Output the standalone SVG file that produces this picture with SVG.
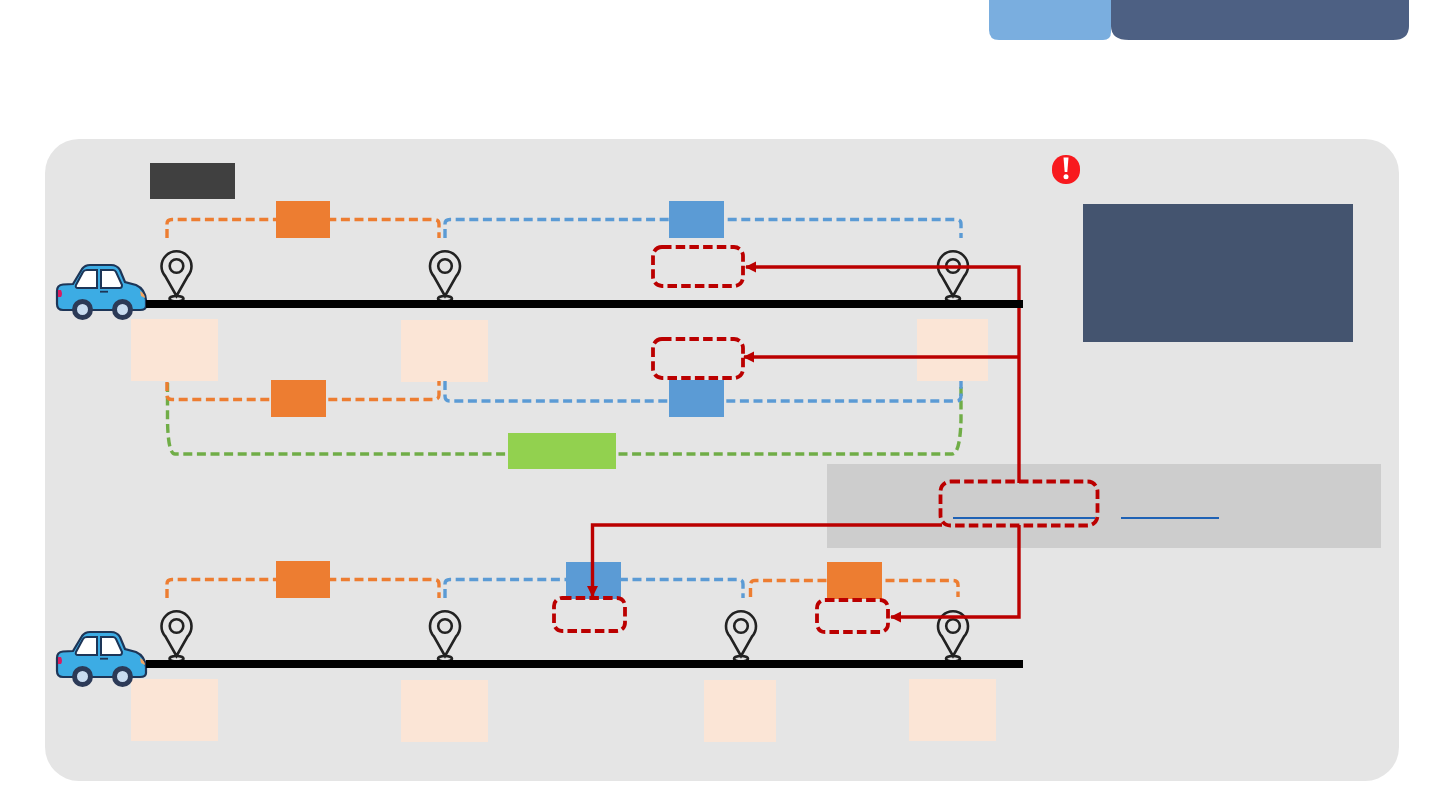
<svg xmlns="http://www.w3.org/2000/svg" width="1440" height="810" viewBox="0 0 1440 810">
  <style>
    .dash { fill: none; stroke-width: 3.4; stroke-dasharray: 9 4.6; }
    .orange { stroke: #ed7d31; }
    .blue { stroke: #5b9bd5; }
    .green { stroke: #70ad47; }
    .flag { fill: none; stroke: #bb0000; stroke-width: 3.8; stroke-dasharray: 9.500 4.200; }
    .feed { fill: none; stroke: #bb0000; stroke-width: 3.4; }
    .cost { fill: #fbe5d6; }
    .o { fill: #ed7d31; }
    .b { fill: #5b9bd5; }
    .road { fill: #000; }
    .link { stroke: #1f62b5; stroke-width: 2; }
  </style>
  <defs>
    <marker id="head" viewBox="0 0 10 10" refX="9" refY="5" markerWidth="3.300" markerHeight="3.300" orient="auto-start-reverse">
      <path d="M0 0L10 5L0 10Z" fill="#bb0000"/>
    </marker>
    <g id="pin" fill="none" stroke="#222" stroke-width="2.600">
      <path d="M176.500 296L165.500 276.500A15 15 0 1 1 187.500 276.500Z"/>
      <circle cx="176.500" cy="266" r="6.800"/>
      <ellipse cx="176.500" cy="298.800" rx="7" ry="2.800"/>
    </g>
    <g id="car">
      <path d="M57 291Q57 285 63 284.500L73 284L82 269Q85 265 90 265L111 265Q117 265 120 270L125 282L136 285Q145 289 146 300L146 306Q146 310 140 310L63 310Q57 310 57 304Z" fill="#3cace4" stroke="#1d3557" stroke-width="2.200"/>
      <path d="M76 285L83 272Q84 270 87 270L97 270L97 288L78 288Q75 288 76 285Z" fill="#fff" stroke="#1d3557" stroke-width="2"/>
      <path d="M101 270L113 270Q115 270 116 272L122 285Q122 288 120 288L101 288Z" fill="#fff" stroke="#1d3557" stroke-width="2"/>
      <rect x="100" y="290.800" width="8" height="1.800" fill="#1d3557"/>
      <path d="M58 290L61 290Q63 294 61 297L58 297Z" fill="#d81b60"/>
      <path d="M140 291Q145 294 145 298L141 296Z" fill="#f4a460"/>
      <circle cx="82.500" cy="309.500" r="8" fill="#c9dcf0" stroke="#2c3a57" stroke-width="5"/>
      <circle cx="122.500" cy="309.500" r="8" fill="#c9dcf0" stroke="#2c3a57" stroke-width="5"/>
    </g>
  </defs>

  <g id="header">
    <path d="M989 0H1111V32Q1111 40 1103 40H999Q989 40 989 30Z" fill="#7aaedf"/>
    <path d="M1111 0H1409V26Q1409 40 1393 40H1129Q1111 40 1111 26Z" fill="#4d6083"/>
  </g>

  <rect id="panel" x="45" y="139" width="1354" height="642" rx="34" fill="#e5e5e5"/>
  <rect id="legend-tag" x="150" y="163" width="85" height="36" fill="#404040"/>
  <rect id="note" x="1083" y="204" width="270" height="138" fill="#44546f"/>
  <g id="alert">
    <rect x="1052" y="155" width="28" height="29" rx="13.500" fill="#f8191e"/>
    <path d="M1063.500 157.500H1068.500L1067.300 172H1064.700Z" fill="#fff"/>
    <circle cx="1066" cy="176.800" r="2.500" fill="#fff"/>
  </g>
  <g id="source-band">
    <rect x="827" y="464" width="554" height="84" fill="#cdcdcd"/>
    <line class="link" x1="953" y1="518" x2="1095" y2="518"/>
    <line class="link" x1="1121" y1="518" x2="1219" y2="518"/>
  </g>

  <g id="costs">
    <rect class="cost" x="131" y="319" width="87" height="62"/>
    <rect class="cost" x="401" y="320" width="87" height="62"/>
    <rect class="cost" x="917" y="319" width="71" height="62"/>
    <rect class="cost" x="131" y="679" width="87" height="62"/>
    <rect class="cost" x="401" y="680" width="87" height="62"/>
    <rect class="cost" x="704" y="680" width="72" height="62"/>
    <rect class="cost" x="909" y="679" width="87" height="62"/>
  </g>

  <g id="spans">
    <path class="dash orange" d="M167 238V224Q167 219.500 172 219.500H434Q439 219.500 439 224V238"/>
    <path class="dash blue" d="M445 238V224Q445 219.500 450 219.500H956Q961 219.500 961 224V238"/>
    <path class="dash green" d="M167.500 383V420Q168 454 175 454H952Q960 454 961 420V383"/>
    <path class="dash orange" d="M167 382V395Q167 399.500 172 399.500H434Q439 399.500 439 395V381"/>
    <path class="dash blue" d="M445 381V396Q445 401 450 401H956Q961 401 961 396V381"/>
    <path class="dash orange" d="M167 598V584Q167 579.500 172 579.500H434Q439 579.500 439 584V598"/>
    <path class="dash blue" d="M445 598V584Q445 579.500 450 579.500H738Q743 579.500 743 584V598"/>
    <path class="dash orange" d="M750.500 597V585Q750.500 580.500 755 580.500H953Q958 580.500 958 585V597"/>
  </g>

  <g id="segments">
    <rect class="o" x="276" y="201" width="54" height="37"/>
    <rect class="b" x="669" y="201" width="55" height="37"/>
    <rect class="o" x="271" y="380" width="55" height="37"/>
    <rect class="b" x="669" y="380" width="55" height="37"/>
    <rect x="508" y="433" width="108" height="36" fill="#92d14f"/>
    <rect class="o" x="276" y="561" width="54" height="37"/>
    <rect class="b" x="566" y="562" width="55" height="37"/>
    <rect class="o" x="827" y="562" width="55" height="37"/>
  </g>

  <g id="route-top">
    <use href="#pin"/>
    <use href="#pin" x="268.500"/>
    <use href="#pin" x="776.500"/>
    <use href="#car"/>
  </g>
  <g id="route-bottom">
    <use href="#pin" y="360"/>
    <use href="#pin" x="268.500" y="360"/>
    <use href="#pin" x="564.500" y="360"/>
    <use href="#pin" x="776.500" y="360"/>
    <use href="#car" y="367"/>
  </g>

  <g id="connectors">
    <path class="feed" d="M1019 483V267H746" marker-end="url(#head)"/>
    <path class="feed" d="M1019 357H744" marker-end="url(#head)"/>
    <path class="feed" d="M1019 525V617H891" marker-end="url(#head)"/>
    <path class="feed" d="M942 525H592.500V596" marker-end="url(#head)"/>
  </g>

  <g id="roads">
    <rect class="road" x="146" y="300" width="877" height="8"/>
    <rect class="road" x="146" y="660" width="877" height="8"/>
  </g>

  <g id="flags">
    <rect class="flag" x="653" y="247" width="90" height="39" rx="9"/>
    <rect class="flag" x="653" y="339" width="90" height="39" rx="9"/>
    <rect class="flag" x="940.500" y="481.500" width="157" height="44" rx="10"/>
    <rect class="flag" x="554" y="598" width="71" height="33" rx="8"/>
    <rect class="flag" x="817" y="600" width="71" height="32" rx="8"/>
  </g>
</svg>
